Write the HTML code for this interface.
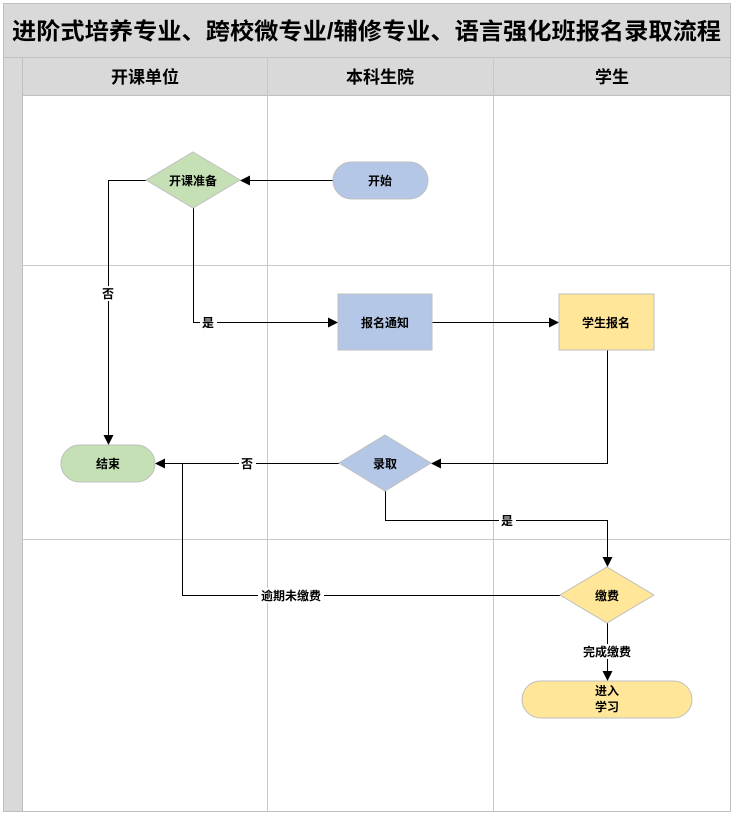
<!DOCTYPE html>
<html><head><meta charset="utf-8"><style>
html,body{margin:0;padding:0;background:#fff;}
svg{display:block;}
text{font-family:"Liberation Sans","Noto Sans CJK SC",sans-serif;font-weight:bold;fill:#000;}
</style></head><body>
<svg width="747" height="814" viewBox="0 0 747 814" xmlns="http://www.w3.org/2000/svg">
<defs><marker id="a" markerWidth="10" markerHeight="10" refX="9" refY="5" orient="auto" markerUnits="userSpaceOnUse"><path d="M0,0 L10,5 L0,10 z" fill="#000"/></marker></defs>
<rect x="3.5" y="3.5" width="727" height="808" fill="#fff" stroke="#bfbfbf"/>
<rect x="3.5" y="3.5" width="727" height="54" fill="#d9d9d9" stroke="#bfbfbf"/>
<text x="12" y="39" font-size="23" textLength="709" lengthAdjust="spacingAndGlyphs">进阶式培养专业、跨校微专业/辅修专业、语言强化班报名录取流程</text>
<rect x="3.5" y="57.5" width="19" height="754" fill="#d9d9d9" stroke="#bfbfbf"/>
<rect x="22.5" y="57.5" width="708" height="38" fill="#d9d9d9" stroke="#bfbfbf"/>
<g stroke="#c8c8c8" stroke-width="1">
<line x1="267.5" y1="57" x2="267.5" y2="812"/>
<line x1="493.5" y1="57" x2="493.5" y2="812"/>
<line x1="22" y1="265.5" x2="731" y2="265.5"/>
<line x1="22" y1="539.5" x2="731" y2="539.5"/>
</g>
<g font-size="17" text-anchor="middle">
<text x="145" y="83">开课单位</text><text x="380" y="83">本科生院</text><text x="612" y="83">学生</text>
</g>
<g fill="none" stroke="#000" stroke-width="1">
<line x1="333" y1="180.5" x2="241" y2="180.5" marker-end="url(#a)"/>
<polyline points="146,180.5 108.5,180.5 108.5,444" marker-end="url(#a)"/>
<polyline points="193.5,208 193.5,322.5 337,322.5" marker-end="url(#a)"/>
<line x1="432" y1="322.5" x2="558" y2="322.5" marker-end="url(#a)"/>
<polyline points="607.5,350 607.5,463.5 432,463.5" marker-end="url(#a)"/>
<line x1="339" y1="463.5" x2="156" y2="463.5" marker-end="url(#a)"/>
<polyline points="385.5,491 385.5,520.5 607.5,520.5 607.5,566" marker-end="url(#a)"/>
<polyline points="560,595.5 182.5,595.5 182.5,463.5"/>
<line x1="607.5" y1="623" x2="607.5" y2="680" marker-end="url(#a)"/>
</g>
<g stroke="#bfbfbf" stroke-width="1">
<polygon points="193,152 240,180 193,208 146,180" fill="#c5e0b4"/>
<rect x="333" y="162" width="95" height="37" rx="18.5" fill="#b4c7e7"/>
<rect x="338" y="294" width="94" height="56" fill="#b4c7e7"/>
<rect x="559" y="294" width="95" height="56" fill="#ffe699"/>
<rect x="61" y="445" width="94" height="37" rx="18.5" fill="#c5e0b4"/>
<polygon points="385,435 431,463 385,491 339,463" fill="#b4c7e7"/>
<polygon points="607,567 654,595 607,623 560,595" fill="#ffe699"/>
<rect x="522" y="681" width="170" height="37" rx="18.5" fill="#ffe699"/>
</g>
<g font-size="12" text-anchor="middle">
<text x="193" y="185">开课准备</text>
<text x="380" y="185">开始</text>
<text x="385" y="327">报名通知</text>
<text x="606" y="327">学生报名</text>
<text x="108" y="468">结束</text>
<text x="385" y="468">录取</text>
<text x="607" y="600">缴费</text>
<text x="607" y="695">进入</text>
<text x="607" y="711">学习</text>
</g>
<g font-size="12" text-anchor="middle">
<rect x="100" y="286" width="17" height="15" fill="#fff"/><text x="108" y="298">否</text>
<rect x="200" y="315" width="17" height="15" fill="#fff"/><text x="208" y="327">是</text>
<rect x="239" y="456" width="17" height="15" fill="#fff"/><text x="247" y="468">否</text>
<rect x="499" y="513" width="17" height="15" fill="#fff"/><text x="507" y="525">是</text>
<rect x="258" y="588" width="66" height="15" fill="#fff"/><text x="291" y="600">逾期未缴费</text>
<rect x="579" y="644" width="56" height="15" fill="#fff"/><text x="607" y="656">完成缴费</text>
</g>
</svg>
</body></html>
